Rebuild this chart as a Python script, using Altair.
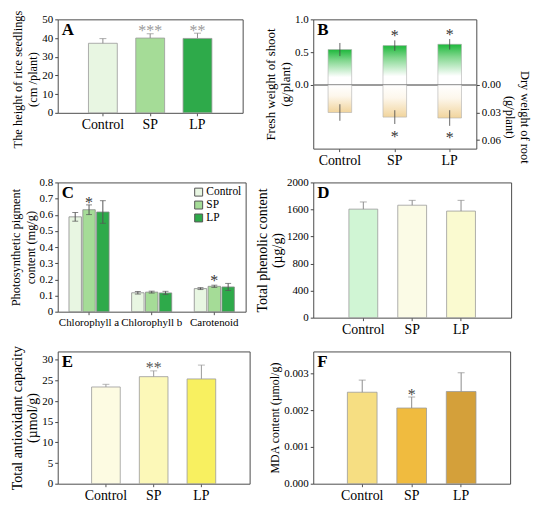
import altair as alt
import pandas as pd

FONT = "Liberation Serif"
treatments = ["Control", "SP", "LP"]

# ---------------- Panel A: seedling height ----------------
a_height = [37.2, 40.0, 39.8]
a_err = [2.5, 2.3, 2.8]
a_stars = ["", "***", "**"]
a_star_pos = [0.0, 46.0, 46.0]
a_colors = ["#e8f6e2", "#a5dc97", "#2eaa4a"]

# ---------------- Panel B: shoot fresh / root dry weight ----------------
b_shoot = [0.54, 0.60, 0.62]
b_shoot_err = [0.10, 0.08, 0.08]
b_root = [0.030, 0.035, 0.036]
b_root_err = [0.009, 0.0075, 0.0085]
b_shoot_stars = ["", "*", "*"]
b_shoot_star_pos = [0.0, 0.80, 0.82]
b_root_stars = ["", "*", "*"]
b_root_star_pos = [0.0, 0.052, 0.053]

# ---------------- Panel C: pigments ----------------
pigments = ["Chlorophyll a", "Chlorophyll b", "Carotenoid"]
c_control = [0.587, 0.117, 0.143]
c_sp = [0.631, 0.121, 0.157]
c_lp = [0.617, 0.116, 0.153]
c_control_err = [0.027, 0.008, 0.006]
c_sp_err = [0.030, 0.006, 0.007]
c_lp_err = [0.070, 0.010, 0.022]
c_star_pigment = ["Chlorophyll a", "Carotenoid"]
c_star_treat = ["SP", "SP"]
c_star_text = ["*", "*"]
c_star_pos = [0.70, 0.215]

# ---------------- Panel D: phenolics ----------------
d_val = [1605, 1663, 1576]
d_err = [106, 72, 159]
d_stars = ["", "", ""]
d_star_pos = [0.0, 0.0, 0.0]
d_colors = ["#d0f5d4", "#fbfbe6", "#fafad0"]

# ---------------- Panel E: antioxidant capacity ----------------
e_val = [23.4, 25.9, 25.35]
e_err = [0.65, 1.4, 3.35]
e_stars = ["", "**", ""]
e_star_pos = [0.0, 29.0, 0.0]
e_colors = ["#fdfbe2", "#fcf8b8", "#f8f060"]

# ---------------- Panel F: MDA ----------------
f_val = [0.00249, 0.00206, 0.00251]
f_err = [0.00033, 0.00030, 0.00051]
f_stars = ["", "*", ""]
f_star_pos = [0.0, 0.00252, 0.0]
f_colors = ["#f6de82", "#f0bb3f", "#d4a03a"]


def xaxis(size=14):
    return alt.Axis(labelFont=FONT, labelFontSize=size, labelAngle=0, labelLimit=200,
                    labelColor="black", tickSize=3, labelPadding=2, domain=False,
                    tickColor="#555555", title=None)


def letter_layer(letter):
    return alt.Chart(pd.DataFrame({"L": [letter]})).mark_text(
        font=FONT, fontSize=17, fontWeight="bold", align="left", baseline="top", color="black"
    ).encode(text="L:N", x=alt.value(4), y=alt.value(3))


def simple_panel(letter, vals, errs, stars, star_pos, colors, domain, ticks, fmt,
                 title, title_size, width, height, err_color, star_color,
                 pad_inner, pad_outer, title_y=None):
    df = pd.DataFrame({"t": treatments, "v": vals, "e": errs, "s": stars, "sy": star_pos})
    df["hi"] = df["v"] + df["e"]
    ax_kw = dict(values=ticks, title=title, titleFontSize=title_size, format=fmt,
                 labelFont=FONT, titleFont=FONT)
    if title_y is not None:
        ax_kw["titleY"] = title_y
    yax = alt.Axis(**ax_kw)
    ysc = alt.Scale(domain=domain, nice=False)
    x = alt.X("t:N", sort=treatments, title=None, axis=xaxis(),
              scale=alt.Scale(paddingInner=pad_inner, paddingOuter=pad_outer))
    base = alt.Chart(df)
    bars = base.mark_bar(stroke="#9a9a9a", strokeWidth=0.8).encode(
        x=x, y=alt.Y("v:Q", scale=ysc, axis=yax),
        color=alt.Color("t:N", scale=alt.Scale(domain=treatments, range=colors), legend=None),
    )
    err = base.mark_rule(color=err_color, strokeWidth=1).encode(
        x=x, y=alt.Y("v:Q", scale=ysc, axis=yax), y2="hi:Q")
    cap = base.mark_tick(color=err_color, thickness=1, size=7).encode(
        x=x, y=alt.Y("hi:Q", scale=ysc, axis=yax))
    star = base.transform_filter("datum.s != ''").mark_text(
        font=FONT, fontSize=16, color=star_color, baseline="middle", dy=4).encode(
        x=x, y=alt.Y("sy:Q", scale=ysc, axis=yax), text="s:N")
    return alt.layer(bars, err, cap, star, letter_layer(letter)).properties(width=width, height=height)


# ---- A ----
chart_a = simple_panel("A", a_height, a_err, a_stars, a_star_pos, a_colors, [0, 50],
                       [0, 10, 20, 30, 40, 50], "d",
                       ["The height of rice seedlings", "(cm /plant)"], 12.5, 186, 94,
                       "#8c8c8c", "#9a9a9a", 0.39, 0.65, title_y=60)

# ---- B ----
dfB = pd.DataFrame({"t": treatments, "s": b_shoot, "se": b_shoot_err, "r": b_root, "re": b_root_err,
                    "ss": b_shoot_stars, "ssy": b_shoot_star_pos, "rs": b_root_stars, "rsy": b_root_star_pos})
dfB["slo"] = dfB["s"] - dfB["se"]
dfB["shi"] = dfB["s"] + dfB["se"]
dfB["rlo"] = dfB["r"] - dfB["re"]
dfB["rhi"] = dfB["r"] + dfB["re"]
xB = alt.X("t:N", sort=treatments, title=None, axis=xaxis(),
           scale=alt.Scale(paddingInner=0.57, paddingOuter=0.27))
sc_s = alt.Scale(domain=[-0.97, 1.0], nice=False)
ax_s = alt.Axis(values=[0, 0.5, 1.0], format=".1f", title=["Fresh weight  of shoot", "(g/plant)"],
                titleFontSize=13, labelFont=FONT, titleFont=FONT)
sc_r = alt.Scale(domain=[-0.0714, 0.0693], nice=False, reverse=True)
ax_r = alt.Axis(orient="right", values=[0, 0.03, 0.06], format=".2f",
                title=["Dry weight of root", "(g/plant)"], titleFontSize=12.5, titleY=98,
                labelFont=FONT, titleFont=FONT)

green_grad = alt.Gradient(gradient="linear", x1=0, x2=0, y1=0, y2=1, stops=[
    alt.GradientStop(color="#1db83b", offset=0),
    alt.GradientStop(color="#7fd68c", offset=0.3),
    alt.GradientStop(color="#ffffff", offset=0.78),
    alt.GradientStop(color="#ffffff", offset=1)])
tan_grad = alt.Gradient(gradient="linear", x1=0, x2=0, y1=0, y2=1, stops=[
    alt.GradientStop(color="#ffffff", offset=0),
    alt.GradientStop(color="#fdf7ec", offset=0.4),
    alt.GradientStop(color="#f1d49c", offset=1)])

baseB = alt.Chart(dfB)
shoot_bar = baseB.mark_bar(fill=green_grad, stroke="#b0b0b0", strokeWidth=0.6).encode(
    x=xB, y=alt.Y("s:Q", scale=sc_s, axis=ax_s), y2=alt.datum(0))
zero_line = alt.Chart(pd.DataFrame({"z": [0.0]})).mark_rule(color="#7a7a7a", strokeWidth=1.5).encode(
    y=alt.Y("z:Q", scale=sc_s, axis=ax_s))
shoot_err = baseB.mark_rule(color="#444444", strokeWidth=0.8).encode(
    x=xB, y=alt.Y("slo:Q", scale=sc_s, axis=ax_s), y2="shi:Q")
shoot_star = baseB.transform_filter("datum.ss != ''").mark_text(
    font=FONT, fontSize=16, color="#333333", baseline="middle", dy=4).encode(
    x=xB, y=alt.Y("ssy:Q", scale=sc_s, axis=ax_s), text="ss:N")
shoot_layer = alt.layer(shoot_bar, zero_line, shoot_err, shoot_star)

root_bar = baseB.mark_bar(fill=tan_grad, stroke="#b0b0b0", strokeWidth=0.6).encode(
    x=xB, y=alt.Y("r:Q", scale=sc_r, axis=ax_r), y2=alt.datum(0))
root_err = baseB.mark_rule(color="#444444", strokeWidth=0.8).encode(
    x=xB, y=alt.Y("rlo:Q", scale=sc_r, axis=ax_r), y2="rhi:Q")
root_star = baseB.transform_filter("datum.rs != ''").mark_text(
    font=FONT, fontSize=16, color="#333333", baseline="middle", dy=4).encode(
    x=xB, y=alt.Y("rsy:Q", scale=sc_r, axis=ax_r), text="rs:N")
root_layer = alt.layer(root_bar, root_err, root_star)

chart_b = alt.layer(shoot_layer, root_layer, letter_layer("B")).resolve_scale(
    y="independent").properties(width=164, height=130)

# ---- C ----
rows = []
for tname, vals, errs in zip(treatments, [c_control, c_sp, c_lp], [c_control_err, c_sp_err, c_lp_err]):
    for p, v, e in zip(pigments, vals, errs):
        rows.append({"p": p, "t": tname, "v": v, "lo": v - e, "hi": v + e})
dfC = pd.DataFrame(rows)
dfCs = pd.DataFrame({"p": c_star_pigment, "t": c_star_treat, "s": c_star_text, "sy": c_star_pos})
xC = alt.X("p:N", sort=pigments, title=None,
           scale=alt.Scale(paddingInner=0.36, paddingOuter=0.18), axis=xaxis(11))
xoC = alt.XOffset("t:N", sort=treatments, scale=alt.Scale(paddingInner=0.1))
scC = alt.Scale(domain=[0, 0.8], nice=False)
axC = alt.Axis(values=[0, 0.1, 0.2, 0.3, 0.4, 0.5, 0.6, 0.7, 0.8],
               labelExpr="datum.value == 0 ? '0' : format(datum.value, '.1f')",
               title=["Photosynthetic pigment", "content (mg/g)"], titleFontSize=12.5,
               labelFont=FONT, titleFont=FONT)
baseC = alt.Chart(dfC)
c_bars = baseC.mark_bar(stroke="#8a8a8a", strokeWidth=0.8).encode(
    x=xC, xOffset=xoC, y=alt.Y("v:Q", scale=scC, axis=axC),
    color=alt.Color("t:N", sort=treatments,
                    scale=alt.Scale(domain=treatments, range=a_colors),
                    legend=alt.Legend(title=None, orient="top-right", offset=4, symbolType="square",
                                      symbolSize=64, symbolStrokeColor="#555555", symbolStrokeWidth=1,
                                      labelFont=FONT, labelFontSize=11.5, labelOffset=2,
                                      rowPadding=0, padding=0)))
c_err = baseC.mark_rule(color="#555555", strokeWidth=1).encode(
    x=xC, xOffset=xoC, y=alt.Y("lo:Q", scale=scC, axis=axC), y2="hi:Q")
c_cap_hi = baseC.mark_tick(color="#555555", thickness=1, size=6).encode(
    x=xC, xOffset=xoC, y=alt.Y("hi:Q", scale=scC, axis=axC))
c_cap_lo = baseC.mark_tick(color="#555555", thickness=1, size=6).encode(
    x=xC, xOffset=xoC, y=alt.Y("lo:Q", scale=scC, axis=axC))
c_star = alt.Chart(dfCs).mark_text(font=FONT, fontSize=16, color="#333333", baseline="middle", dy=4).encode(
    x=xC, xOffset=xoC, y=alt.Y("sy:Q", scale=scC, axis=axC), text="s:N")
chart_c = alt.layer(c_bars, c_err, c_cap_hi, c_cap_lo, c_star, letter_layer("C")).properties(
    width=189, height=130)

# ---- D ----
chart_d = simple_panel("D", d_val, d_err, d_stars, d_star_pos, d_colors, [0, 2000],
                       [0, 400, 800, 1200, 1600, 2000], "d",
                       ["Total phenolic content", "(\u00b5g/g)"], 14, 199, 136,
                       "#8c8c8c", "#444444", 0.41, 0.73)

# ---- E ----
chart_e = simple_panel("E", e_val, e_err, e_stars, e_star_pos, e_colors, [0, 32],
                       [0, 5, 10, 15, 20, 25, 30], "d",
                       ["Total antioxidant capacity", "(\u00b5mol/g)"], 14, 193, 133,
                       "#9a9a9a", "#555555", 0.40, 0.71)

# ---- F ----
chart_f = simple_panel("F", f_val, f_err, f_stars, f_star_pos, f_colors, [0, 0.0036],
                       [0, 0.001, 0.002, 0.003], ".3f",
                       "MDA content (\u00b5mol/g)", 12, 198, 133,
                       "#8c8c8c", "#444444", 0.40, 0.69)

chart = alt.concat(chart_a, chart_b, chart_c, chart_d, chart_e, chart_f, columns=2,
                   spacing={"row": 34, "column": 64}, bounds="flush", align="each").resolve_scale(
    color="independent"
).properties(
    padding=0
).configure(
    font=FONT
).configure_view(
    stroke="#4d4d4d", strokeWidth=1
).configure_axis(
    labelFont=FONT, titleFont=FONT, labelColor="black", titleColor="black",
    titleFontWeight="normal", tickColor="#444444", domain=False, grid=False,
    tickSize=3, labelPadding=2, titlePadding=2, titleLineHeight=15
).configure_axisY(
    labelFontSize=11, labelFont=FONT
).configure_text(
    font=FONT
).configure_legend(
    labelFont=FONT, labelColor="black"
)

chart.save("out.html", embed_options={"renderer": "svg", "actions": False})
